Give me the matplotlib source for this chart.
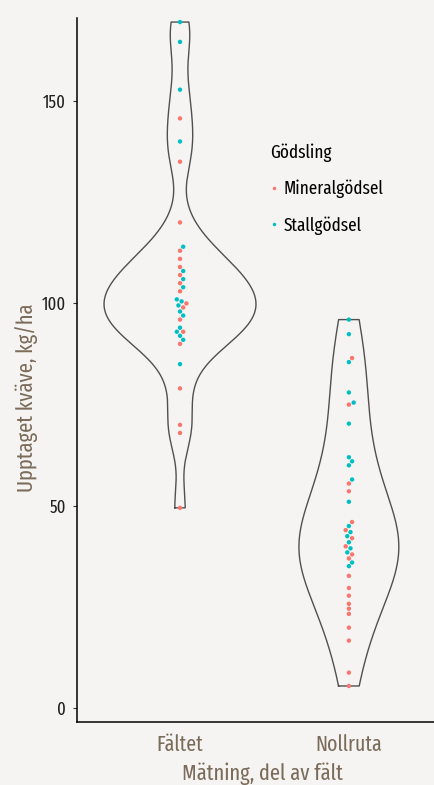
import numpy as np
import matplotlib
matplotlib.use("Agg")
import matplotlib.pyplot as plt
from matplotlib import font_manager
from matplotlib.lines import Line2D

# ---------------- data ----------------
categories = ["Fältet", "Nollruta"]
groups = ["Mineralgödsel", "Stallgödsel"]

faltet_mineral = [145.7, 135, 120, 113, 111, 109, 107, 105, 103, 100, 99, 96, 93, 90, 79, 70, 68, 49.5]
faltet_stall = [169.5, 164.6, 152.8, 140, 114, 108, 106, 104, 101, 100.5, 99.5, 98, 97, 94, 93, 92, 91, 85]
nollruta_mineral = [86.5, 75, 55.5, 53.6, 46, 44, 42, 40, 38, 37, 32.7, 29.7, 27.8, 25.8, 24.6, 23.3,
                    19.9, 16.7, 8.8, 5.5]
nollruta_stall = [96, 92.4, 85.5, 78, 75.5, 70.3, 62, 61, 60, 56.5, 51, 45, 43.5, 42.5, 41, 39.5,
                  38.5, 36, 35.1]

yticks = [0, 50, 100, 150]
ylabel = "Upptaget kväve, kg/ha"
xlabel = "Mätning, del av fält"
legend_title = "Gödsling"

# ---------------- style ----------------
names = {f.name for f in font_manager.fontManager.ttflist}
fam = "DejaVu Sans"
for cand in ["Fira Sans Extra Condensed", "PT Sans Narrow", "Roboto Condensed"]:
    if cand in names:
        fam = cand
        break
plt.rcParams["font.family"] = [fam, "DejaVu Sans"]

bg = "#f5f4f2"
brown = "#7b6b5a"
col = {"Mineralgödsel": "#f8766d", "Stallgödsel": "#00bfc4"}

fig = plt.figure(figsize=(4.35, 7.85), dpi=100, facecolor=bg)
ax = fig.add_axes([77 / 435, 63 / 785, 358 / 435, 704 / 785], facecolor=bg)

xlim = (-0.61, 1.51)
ylim = (-3.4, 170.5)
ax.set_xlim(*xlim)
ax.set_ylim(*ylim)

data = {
    "Fältet": {"Mineralgödsel": faltet_mineral, "Stallgödsel": faltet_stall},
    "Nollruta": {"Mineralgödsel": nollruta_mineral, "Stallgödsel": nollruta_stall},
}
bw_scale = {"Fältet": 1.0, "Nollruta": 1.25}


def nrd0(x):
    x = np.asarray(x)
    sd = np.std(x, ddof=1)
    iqr = np.subtract(*np.percentile(x, [75, 25]))
    lo = min(sd, iqr / 1.34)
    return 0.9 * lo * len(x) ** (-0.2)


# KDE violins (scale = area)
dens = {}
for c in categories:
    vals = np.array(data[c]["Mineralgödsel"] + data[c]["Stallgödsel"], dtype=float)
    bw = nrd0(vals) * bw_scale[c]
    grid = np.linspace(vals.min(), vals.max(), 512)
    d = np.exp(-0.5 * ((grid[:, None] - vals[None, :]) / bw) ** 2).sum(1) / (len(vals) * bw * np.sqrt(2 * np.pi))
    dens[c] = (grid, d)
dmax = max(d.max() for g, d in dens.values())
for i, c in enumerate(categories):
    grid, d = dens[c]
    w = d / dmax * 0.45
    xs = np.concatenate([i - w, (i + w)[::-1], [i - w[0]]])
    ys = np.concatenate([grid, grid[::-1], [grid[0]]])
    ax.plot(xs, ys, color="#505050", lw=1.0, zorder=2)

# beeswarm points
px_x = 169.0
px_y = 704 / (ylim[1] - ylim[0])
mind = 4.8
for i, c in enumerate(categories):
    pts = []
    for g in groups:
        for v in data[c][g]:
            pts.append((v, g))
    pts.sort(key=lambda t: t[0])
    placed = []
    for v, g in pts:
        yp = v * px_y
        best = None
        for k in range(0, 40):
            for s in ([0] if k == 0 else [k * 0.8, -k * 0.8]):
                ok = all((s - xx) ** 2 + (yp - yy) ** 2 >= mind ** 2 for xx, yy in placed)
                if ok:
                    best = s
                    break
            if best is not None:
                break
        placed.append((best, yp))
        ax.scatter(i + best / px_x, v, s=10, color=col[g], edgecolors="none", zorder=3)

# axes styling
for s in ["top", "right"]:
    ax.spines[s].set_visible(False)
ax.spines["left"].set_linewidth(1.1)
ax.spines["bottom"].set_linewidth(1.1)
ax.set_yticks(yticks)
ax.set_yticklabels([str(t) for t in yticks], fontsize=13, color="#222222")
ax.set_xticks(range(len(categories)))
ax.set_xticklabels(categories, fontsize=15.5, color=brown)
ax.tick_params(axis="y", length=3, width=0.8, color="#333333", pad=5)
ax.tick_params(axis="x", length=0, pad=9)
ax.set_ylabel(ylabel, fontsize=16, color=brown)
ax.yaxis.set_label_coords(-0.11, 0.46)
ax.set_xlabel(xlabel, fontsize=16, color=brown)
ax.xaxis.set_label_coords(0.517, -0.057)

handles = [Line2D([0], [0], marker="o", linestyle="none", markersize=2.5,
                  markerfacecolor=col[g], markeredgecolor="none", label=g) for g in groups]
leg = ax.legend(handles=handles, title=legend_title, loc="upper left",
                bbox_to_anchor=(0.52, 0.832), frameon=False, fontsize=13.4,
                title_fontsize=13.4, handlelength=0.4, handletextpad=0.3,
                labelspacing=0.95, borderaxespad=0)
leg._legend_box.align = "left"

fig.savefig("out.png", dpi=100, facecolor=bg)
